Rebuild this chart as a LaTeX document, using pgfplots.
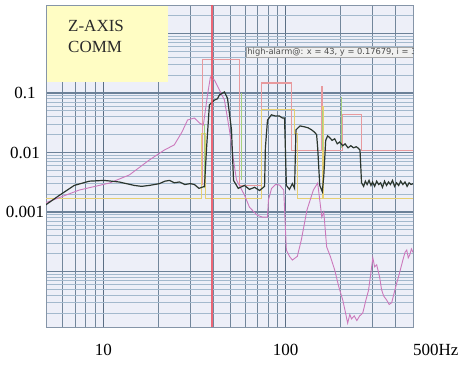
\documentclass[border=0pt]{standalone}
\usepackage{fontspec}
\setmainfont{Liberation Serif}
\newfontfamily\annfont{DejaVu Sans}
\usepackage{pgfplots}
\pgfplotsset{compat=1.18}
\definecolor{bgc}{HTML}{EDEFF8}
\definecolor{gxmaj}{HTML}{5A6E84}
\definecolor{gxmin}{HTML}{72869B}
\definecolor{gymaj}{HTML}{6C8198}
\definecolor{gymin}{HTML}{A3B9CD}
\definecolor{framec}{HTML}{8595A8}
\definecolor{sigc}{HTML}{2B362E}
\definecolor{pinkc}{HTML}{CC78BC}
\definecolor{alarmc}{HTML}{E89A9E}
\definecolor{warnc}{HTML}{E6CF72}
\definecolor{greenc}{HTML}{A6D07E}
\definecolor{cursorc}{HTML}{EE5060}
\definecolor{boxc}{HTML}{FFFDC4}
\definecolor{txtc}{HTML}{2A2A2A}
\begin{document}
\begin{tikzpicture}
\begin{axis}[
  width=367pt, height=322pt, scale only axis,
  xmode=log, ymode=log,
  xmin=4.85, xmax=500, ymin=1.17e-5, ymax=3.01,
  axis background/.style={fill=bgc},
  xtick={10,100,500},
  xticklabels={10,100,\makebox[0pt][l]{500Hz}},
  minor xtick={6,7,8,9,20,30,40,50,60,70,80,90,200,300,400},
  ytick={1e-5,1e-4,0.001,0.01,0.1,1},
  yticklabels={,,0.001,0.01,0.1,},
  minor ytick={2e-5,3e-5,4e-5,5e-5,6e-5,7e-5,8e-5,9e-5,
               2e-4,3e-4,4e-4,5e-4,6e-4,7e-4,8e-4,9e-4,
               0.002,0.003,0.004,0.005,0.006,0.007,0.008,0.009,
               0.02,0.03,0.04,0.05,0.06,0.07,0.08,0.09,
               0.2,0.3,0.4,0.5,0.6,0.7,0.8,0.9,2,3},
  grid=both,
  major x grid style={color=gxmaj, line width=1pt},
  minor x grid style={color=gxmin, line width=0.8pt},
  major y grid style={color=gymaj, line width=1.3pt},
  minor y grid style={color=gymin, line width=0.9pt},
  major tick length=0pt, minor tick length=0pt,
  ticklabel style={font=\fontsize{17}{17}\selectfont, text=black},
  xticklabel style={anchor=base, yshift=-28pt},
  yticklabel style={anchor=center, xshift=-21pt},
  axis line style={draw=framec, line width=0.6pt},
]
\coordinate (SW) at (rel axis cs:0,0);
% alarm limit (salmon)
\addplot[alarmc, line width=1.1pt] coordinates {
 (35.0,0.0028) (35.0,0.36) (55.8,0.36) (55.8,0.0028) (73.8,0.0028) (73.8,0.147)
 (108,0.147) (108,0.011) (158,0.011) (158,0.126) (159,0.126) (159,0.011)
 (206,0.011) (206,0.043) (262,0.043) (262,0.011) (500,0.011)};
% warning limit (yellow)
\addplot[warnc, line width=1.1pt] coordinates {
 (4.85,0.0017) (34.4,0.0017) (34.4,0.021) (36.5,0.021) (36.5,0.0017)
 (73.8,0.0017) (73.8,0.052) (112,0.052) (112,0.021) (116,0.021) (116,0.0017)
 (160,0.0017) (160,0.06) (161,0.06) (161,0.0017) (500,0.0017)};
% green limit segments
\addplot[greenc, line width=1.1pt] coordinates {
 (57.5,0.0035) (57.5,0.1) };
\addplot[greenc, line width=1.1pt] coordinates {
 (36.0,0.0025) (36.0,0.03) };
\addplot[greenc, line width=1.1pt] coordinates {
 (160,0.011) (160,0.052) };
\addplot[greenc, line width=1.1pt] coordinates {
 (203,0.012) (203,0.085) };
% pink spectrum
\addplot[pinkc, line width=0.9pt] coordinates {
 (4.8,0.00142) (7.38,0.00234) (10.8,0.00307) (13.9,0.0042) (17.9,0.0075)
 (21.6,0.011) (24.5,0.0134) (27,0.022) (29.0,0.0352) (31.6,0.038) (33.7,0.0313)
 (35.4,0.029) (37.3,0.0925) (38.7,0.186) (40.7,0.165) (43.4,0.112) (46.2,0.076)
 (49.2,0.024) (51.8,0.0075) (53.8,0.00345) (59.5,0.00193) (63.4,0.0012)
 (70,0.00088) (74.8,0.00082) (79.6,0.00082) (80.5,0.00159) (83.8,0.0025)
 (88,0.0029) (92.7,0.00284) (97.7,0.00234) (101,0.00023) (105,0.00018)
 (109,0.000156) (116,0.00018) (122,0.00034) (131,0.00108) (142,0.00234)
 (150,0.00307) (154,0.00159) (158,0.00082) (162,0.001) (168,0.00026)
 (176,0.00018) (186,0.000106) (196,5.5e-5) (206,3.3e-5) (212,2.2e-5)
 (219,1.36e-5) (225,1.9e-5) (230,1.6e-5) (238,1.8e-5) (246,1.5e-5)
 (255,1.8e-5) (265,2.0e-5) (275,3.2e-5) (285,4.8e-5) (293,9e-5) (301,0.00017)
 (308,0.00012) (316,0.00013) (328,8.1e-5) (336,5e-5) (345,3.9e-5) (359,3.3e-5)
 (370,2.8e-5) (382,3.0e-5) (395,4.5e-5) (407,6.4e-5) (420,9e-5) (440,0.000156)
 (452,0.00021) (462,0.00023) (471,0.00017) (480,0.00019) (490,0.00024) (500,0.00021)};
% main spectrum (dark)
\addplot[sigc, line width=1.2pt] coordinates {
 (4.8,0.0013) (5.73,0.0019) (6.93,0.0028) (8.38,0.0033) (10.1,0.0034)
 (12.2,0.0032) (14.8,0.0028) (16.2,0.0027) (17.9,0.0028) (20.3,0.003)
 (21.8,0.0033) (23.1,0.0034) (24.5,0.0031) (26.2,0.0032) (28,0.0029)
 (30,0.0030) (31.6,0.0029) (33.5,0.0025) (35.9,0.0027) (36.8,0.011)
 (38.2,0.063) (40.7,0.076) (42.3,0.08) (43.4,0.093) (46.2,0.104) (48.0,0.082)
 (50.5,0.024) (51.8,0.0034) (55,0.0025) (59.5,0.0028) (63.4,0.0024)
 (67.6,0.0026) (72,0.0023) (76.7,0.0027) (77.5,0.012) (79.6,0.035)
 (83.6,0.043) (88,0.041) (92.6,0.041) (96,0.038) (98.7,0.038) (101,0.0028)
 (105,0.0024) (109,0.003) (112,0.0025) (114,0.024) (120,0.028) (127,0.027)
 (133,0.026) (139,0.024) (144,0.022) (148,0.02) (150,0.012) (154,0.0028)
 (159,0.0022) (162,0.004) (166,0.016) (170,0.019) (174,0.018) (180,0.016)
 (186,0.017) (192,0.014) (198,0.015) (206,0.013) (212,0.014) (220,0.012)
 (228,0.013) (236,0.012) (244,0.0125) (249,0.012) (256,0.011) (261,0.0031)
 (268,0.0027) (274,0.0033) (280,0.0029) (287,0.0034) (294,0.0028) (300,0.0032)
 (308,0.0027) (316,0.0033) (324,0.0029) (332,0.0031) (340,0.0026) (349,0.0033)
 (358,0.0028) (367,0.0032) (376,0.0029) (386,0.0034) (396,0.0027) (406,0.0031)
 (417,0.0028) (428,0.0033) (440,0.0029) (452,0.0032) (464,0.0027) (476,0.0031)
 (488,0.0029) (500,0.003)};
% cursor
\addplot[cursorc, line width=2pt, opacity=0.85] coordinates {(39.7,1.17e-5) (39.7,3.01)};
\end{axis}
% note box
\fill[boxc] ([shift={(1pt,245pt)}]SW) rectangle ([shift={(122pt,321pt)}]SW);
\node[anchor=base west, inner sep=0pt, text=txtc, font=\fontsize{17}{17}\selectfont]
  at ([shift={(22pt,295pt)}]SW) {Z-AXIS};
\node[anchor=base west, inner sep=0pt, text=txtc, font=\fontsize{17}{17}\selectfont]
  at ([shift={(22pt,274pt)}]SW) {COMM};
% cursor readout
\begin{scope}
\clip (SW) rectangle ([shift={(367pt,322pt)}]SW);
\node[anchor=west, fill=white!88!gray, draw=gray!70, line width=0.5pt, inner sep=1.2pt,
      text=black!70, font=\annfont\fontsize{8.3}{9}\selectfont]
  at ([shift={(200pt,274.5pt)}]SW) {high-alarm@: x = 43, y = 0.17679, i = 3};
\end{scope}
\pgfresetboundingbox
\path ([shift={(-46pt,-38pt)}]SW) rectangle ([shift={(415pt,327pt)}]SW);
\end{tikzpicture}
\end{document}
